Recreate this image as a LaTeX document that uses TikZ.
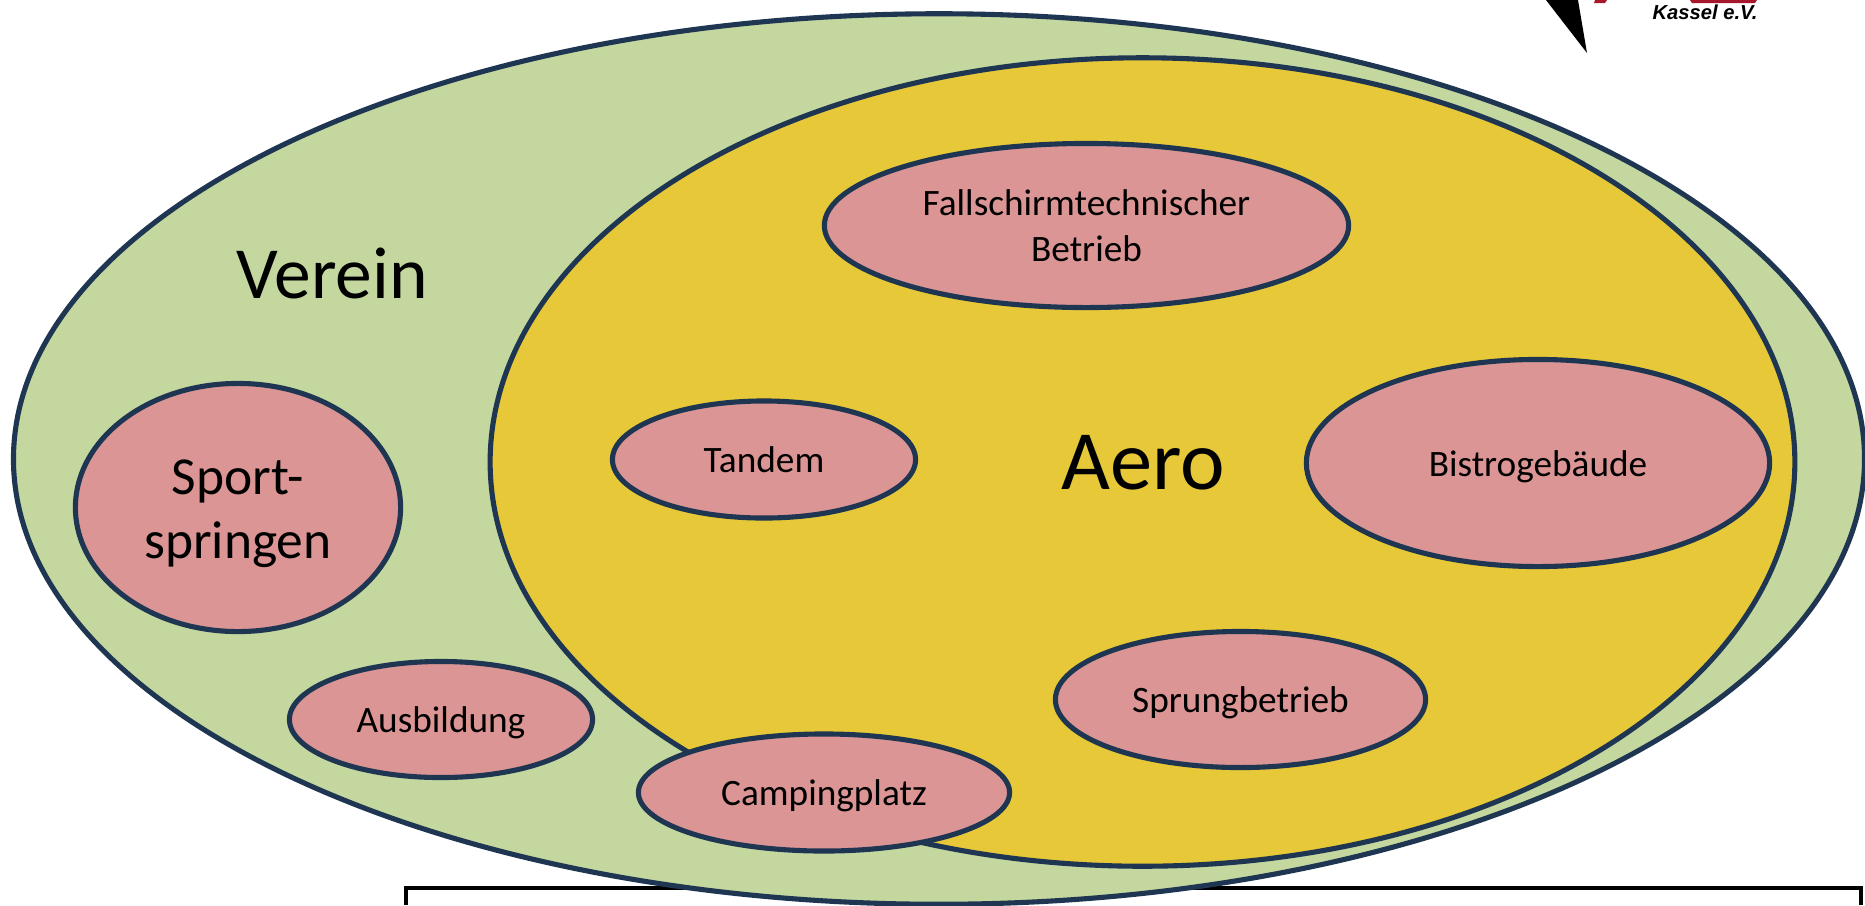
\documentclass[tikz,border=0pt]{standalone}
\usepackage{fontspec}
\usetikzlibrary{shapes.geometric}
\setmainfont{Carlito}
\newfontfamily\logofont{Liberation Sans}
\definecolor{vereingreen}{HTML}{C4D79F}
\definecolor{aeroyellow}{HTML}{E6C838}
\definecolor{partpink}{HTML}{DA9594}
\definecolor{ringblue}{HTML}{1F3653}
\definecolor{logored}{HTML}{A8182C}
\tikzset{
    ring/.style={ellipse,draw=ringblue,line width=1.45pt,inner sep=0pt,align=center},
    part/.style={ring,fill=partpink,font=\fontsize{10.6}{13.2}\selectfont,text height=10.6pt,text depth=3pt},
}
\begin{document}
\begin{tikzpicture}[x=0.01cm,y=-0.01cm]
    \useasboundingbox (0,0) rectangle (1865,905);
    \fill[white] (0,0) rectangle (1865,905);
    % box at the bottom, partly hidden
    \draw[black,line width=1.4pt] (406,905) -- (406,888) -- (1861,888) -- (1861,905);
    % logo remains
    \fill[black] (1546,0) -- (1578,0) -- (1587,53) -- cycle;
    \fill[logored] (1595,0) -- (1607,0) -- (1605,3) -- (1594,3) -- cycle;
    \fill[logored] (1690,0) -- (1757,0) -- (1755,3) -- (1692,3) -- cycle;
    \node[font=\logofont\fontsize{5.75}{7}\selectfont\bfseries\itshape] (kassel) at (1705,12) {Kassel e.V.};
    % big ellipses
    \node[ring,fill=vereingreen,minimum width=18.50cm,minimum height=8.90cm] (verein) at (939,459) {};
    \node[ring,fill=aeroyellow,minimum width=13.04cm,minimum height=8.08cm] (aero) at (1142.5,462) {};
    \node[font=\fontsize{20.9}{25}\selectfont] (vereinlabel) at (332,273) {Verein};
    \node[font=\fontsize{24}{29}\selectfont] (aerolabel) at (1143,463) {Aero};
    % parts
    \node[ring,fill=partpink,minimum width=3.25cm,minimum height=2.48cm] (sport) at (238,507.5) {};
    \node[font=\fontsize{15.2}{18.3}\selectfont,align=center] (sportlabel) at (238,513.5) {Sport-\\springen};
    \node[part,minimum width=3.03cm,minimum height=1.16cm] (ausbildung) at (441,719.5) {Ausbildung};
    \node[part,minimum width=3.71cm,minimum height=1.17cm] (camping) at (824,792.5) {Campingplatz};
    \node[part,text height=,text depth=,minimum width=5.24cm,minimum height=1.64cm] (technik) at (1086.5,225.5) {Fallschirmtechnischer\\Betrieb};
    \node[part,minimum width=3.03cm,minimum height=1.17cm] (tandem) at (764,459.5) {Tandem};
    \node[part,minimum width=4.63cm,minimum height=2.07cm] (bistro) at (1538,463) {Bistrogebäude};
    \node[part,minimum width=3.70cm,minimum height=1.36cm] (sprung) at (1240.5,699.5) {Sprungbetrieb};
\end{tikzpicture}
\end{document}
